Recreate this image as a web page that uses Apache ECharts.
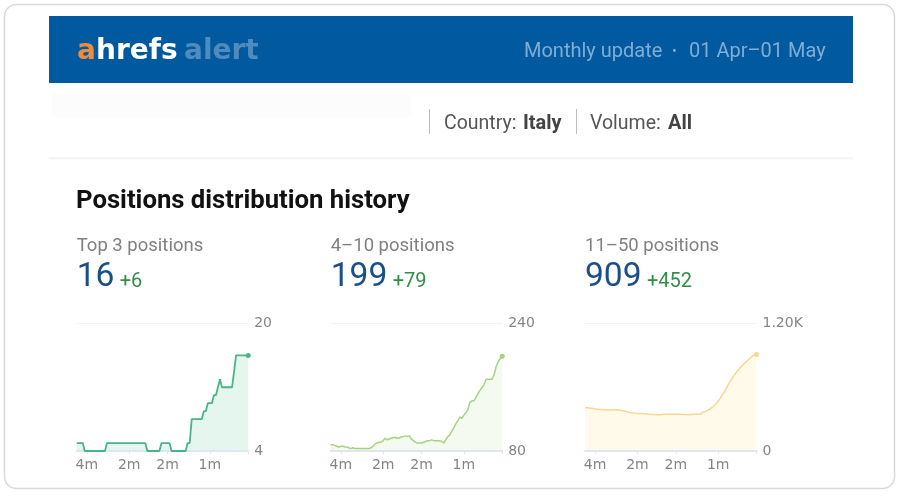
<!DOCTYPE html>
<html><head><meta charset="utf-8">
<style>html,body{margin:0;padding:0;background:#fff}#c{width:899px;height:497px}</style>
<script src="https://cdn.jsdelivr.net/npm/echarts@6/dist/echarts.min.js"></script>
</head><body><div id="c"></div>
<script>
const timeLabels = {5:'4m',26:'2m',45:'2m',66:'1m'};
const tickIndexes = [5,26,45,66,85];
const top3 = [5,5,5,5,4,4,4,4,4,4,4,4,4,4,4,5,5,5,5,5,5,5,5,5,5,5,5,5,5,5,5,5,5,5,5,4,4,4,4,4,4,4,5,5,5,5,5,4,4,4,4,4,4,4,4,5,5,8,8,8,8,8,8,9,9,10,10,10,11,11,12,13,12,12,12,12,12,12,14,16,16,16,16,16,16,16];
const pos4to10 = [88,88,87,86,85,86,86,85,85,84,83,84,83,83,83,83,83,83,83,83,84,86,89,90,91,91,93,96,94,95,96,97,97,96,96,98,98,99,98,99,95,93,91,90,90,90,91,92,93,93,94,93,93,93,93,92,90,94,98,100,105,109,114,118,123,121,125,128,132,141,143,143,147,152,156,160,163,170,170,170,170,176,186,192,196,199];
const pos11to50 = [408,408,405,402,399,396,393,392,390,389,388,387,387,388,388,388,387,385,382,378,374,368,364,361,358,355,353,352,352,352,350,348,346,344,343,342,341,342,343,345,346,347,347,348,347,346,345,345,344,343,342,342,343,344,345,345,345,345,362,367,375,384,396,412,428,445,470,495,525,555,590,625,660,685,715,738,762,785,805,825,842,858,878,895,905,909];
const panelTitles = ['Top 3 positions','4–10 positions','11–50 positions'];
const panelValues = ['16','199','909'];
const panelDeltas = ['+6','+79','+452'];
const yTicks = [[4,20],[80,240],[0,1200]];
const yTickLabels = [['4','20'],['80','240'],['0','1.20K']];
const heading = 'Positions distribution history';

const series = [top3,pos4to10,pos11to50];
const lineColors = ['#48b48c','#a6d381','#f6d88f'];
const areaColors = ['#e5f6ef','#f5faf0','#fffaea'];
const lefts = [76.7,330.7,585];
const numWidths = [37,56,56];
const chart = echarts.init(document.getElementById('c'),null,{renderer:'canvas'});
const R='Roboto, sans-serif';
const txt=(x,y,text,font,color)=>({type:'text',x,y,style:{text,font,fill:color,textVerticalAlign:'middle'},silent:true});
const rect=(x,y,w,h,fill)=>({type:'rect',shape:{x,y,width:w,height:h},style:{fill},silent:true});

const graphic=[
 {type:'rect',z:-10,shape:{x:4.5,y:4.5,width:890,height:484,r:12},style:{fill:'#fff',stroke:'#d9d9d9',lineWidth:1.5},silent:true},
 rect(49,16,804,67,'#015a9f'),
 rect(52,94,358,23,'#fcfcfc'),
 rect(49,157,804,2.5,'#f5f5f5'),
 rect(429,109,1,25,'#bdbdbd'),
 rect(576,109,1,25,'#bdbdbd'),
 txt(77,52,'a','bold 28px "DejaVu Sans"','#ee8a3c'),
 txt(96,52,'hrefs','bold 28px "DejaVu Sans"','#ffffff'),
 txt(184,52,'alert','bold 28px "DejaVu Sans"','#4f8bbd'),
 txt(524,52,'Monthly update','20px '+R,'#7fadd3'),
 txt(672,52,'•','14px '+R,'#7fadd3'),
 txt(689,52,'01 Apr–01 May','20px '+R,'#7fadd3'),
 txt(444,124,'Country:','19.5px '+R,'#555'),
 txt(523,124,'Italy','bold 20px '+R,'#444'),
 txt(590,124,'Volume:','19.5px '+R,'#555'),
 txt(668,124,'All','bold 20px '+R,'#444'),
 txt(76,202,heading,'bold 25.7px '+R,'#111')
];
panelTitles.forEach((t,i)=>{
  const x=lefts[i];
  graphic.push(txt(x,246,t,'18.5px '+R,'#808080'));
  graphic.push(txt(x,278,panelValues[i],'33.6px '+R,'#1a4f8c'));
  graphic.push(txt(x+numWidths[i]+6,282,panelDeltas[i],'20px '+R,'#2f8f46'));
});

const option={animation:false,graphic,
 grid:lefts.map(l=>({left:l,width:171.5,top:323.5,height:127.5,containLabel:false})),
 xAxis:series.map((s,i)=>({gridIndex:i,type:'category',boundaryGap:false,z:3,data:s.map((_,k)=>timeLabels[k]||''),
   axisLine:{show:true,lineStyle:{color:'#dde6f1',width:2}},
   axisTick:{show:true,length:3,lineStyle:{color:'#dde6f1'},interval:(k)=>tickIndexes.includes(k)},
   axisLabel:{interval:(k)=>k in timeLabels,margin:7,color:'#858585',fontFamily:'"DejaVu Sans"',fontSize:14,hideOverlap:false},
   splitLine:{show:false}})),
 yAxis:series.map((s,i)=>({gridIndex:i,type:'value',position:'right',min:yTicks[i][0],max:yTicks[i][1],
   axisLine:{show:false},
   axisTick:{show:false,customValues:yTicks[i]},
   splitLine:{show:true,lineStyle:{color:'#f2f3f4',width:1}},
   axisLabel:{customValues:yTicks[i],margin:6,color:'#858585',fontFamily:'"DejaVu Sans"',fontSize:14,verticalAlign:'middle',padding:[0,0,9,0],
     formatter:(v)=>yTickLabels[i][yTicks[i].indexOf(v)]}})),
 series:series.map((s,i)=>({type:'line',xAxisIndex:i,yAxisIndex:i,data:s,
   showSymbol:true,showAllSymbol:true,symbol:'circle',
   symbolSize:(v,p)=>p.dataIndex===s.length-1?5:0,
   itemStyle:{color:lineColors[i]},
   lineStyle:{color:lineColors[i],width:i===0?1.8:1.5},
   areaStyle:{color:areaColors[i],opacity:1},silent:true}))
};
chart.setOption(option);
</script></body></html>
